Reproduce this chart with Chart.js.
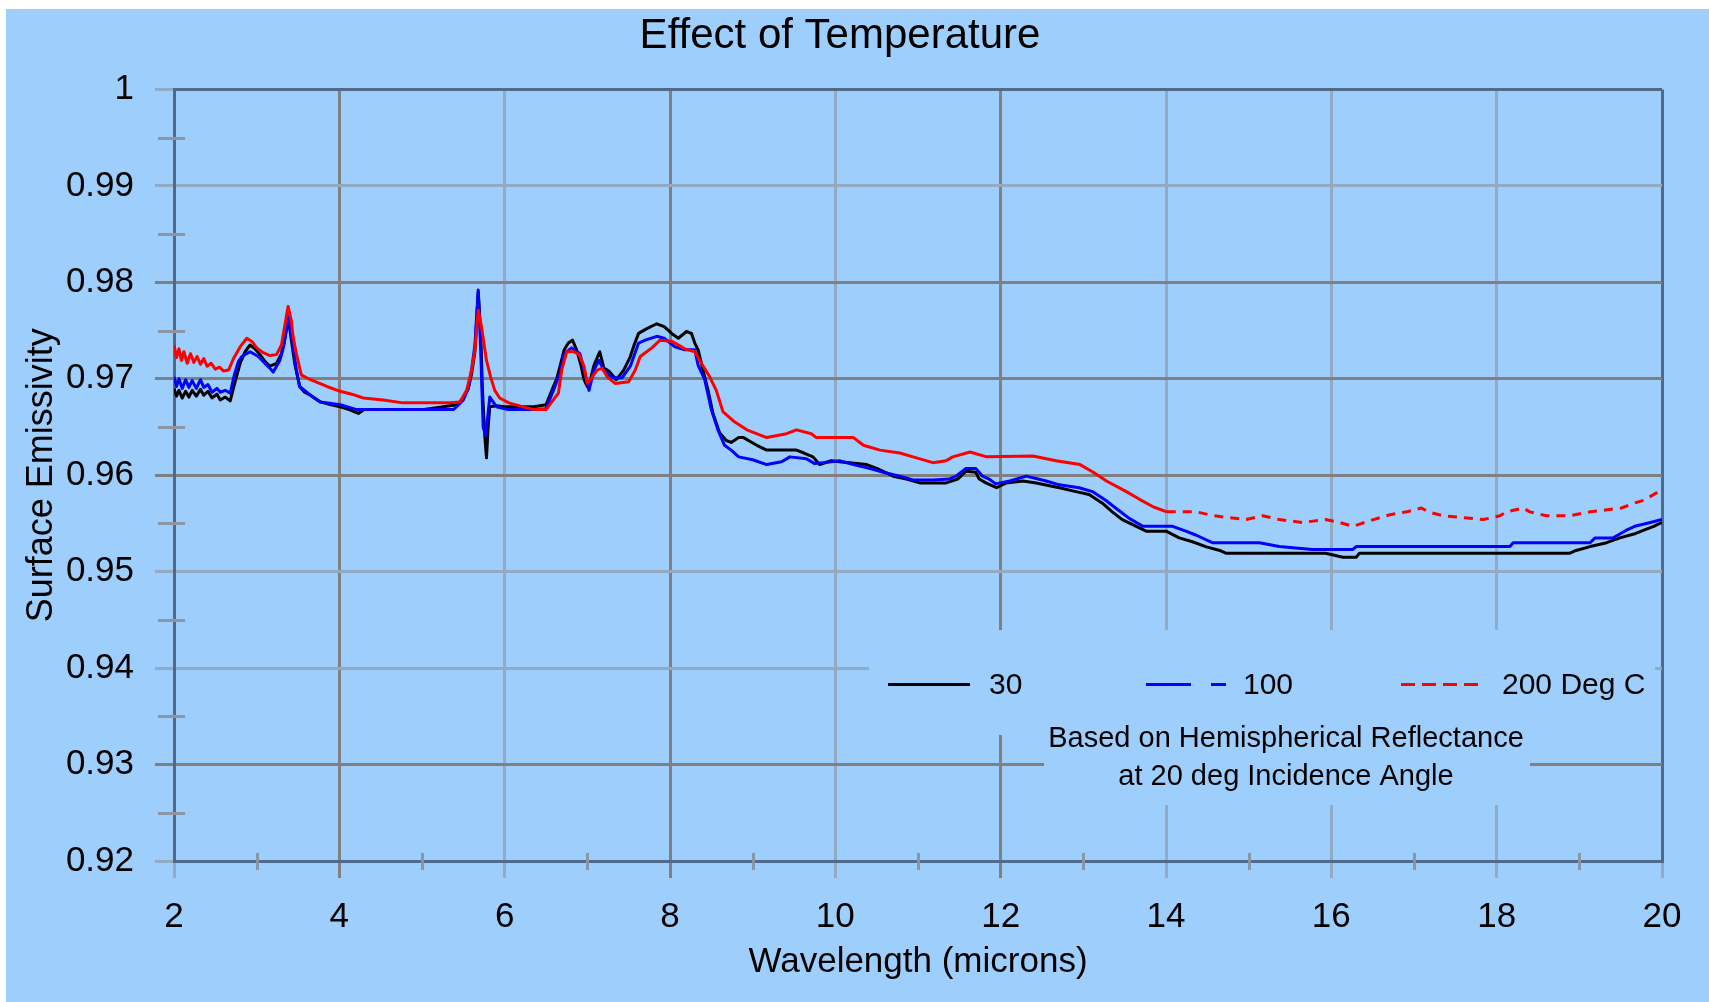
<!DOCTYPE html>
<html>
<head>
<meta charset="utf-8">
<title>Effect of Temperature</title>
<script src="https://cdn.jsdelivr.net/npm/chart.js@4.4.1/dist/chart.umd.min.js"></script>
<style>
  body { margin: 0; background: #ffffff; }
  canvas { display: block; }
</style>
</head>
<body>
<canvas id="chart" width="1709" height="1002"></canvas>
<script>
// wavelength (microns) / emissivity
const wl30 = [2.00,2.03,2.06,2.10,2.14,2.18,2.22,2.27,2.32,2.36,2.41,2.46,2.52,2.56,2.62,2.68,2.73,2.80,2.86,2.92,2.98,3.04,3.10,3.16,3.24,3.30,3.35,3.38,3.42,3.46,3.52,3.58,3.65,3.77,3.90,4.01,4.12,4.23,4.30,4.50,4.77,5.00,5.26,5.42,5.50,5.56,5.60,5.64,5.68,5.71,5.73,5.76,5.78,5.80,5.82,5.90,6.00,6.20,6.35,6.50,6.58,6.63,6.67,6.72,6.77,6.82,6.87,6.92,6.96,7.00,7.04,7.08,7.15,7.20,7.26,7.35,7.44,7.52,7.57,7.62,7.72,7.84,7.93,8.02,8.10,8.20,8.26,8.30,8.34,8.40,8.46,8.52,8.60,8.68,8.74,8.83,8.89,8.97,9.05,9.17,9.53,9.62,9.73,9.81,9.95,10.05,10.38,10.50,10.70,10.86,11.02,11.34,11.48,11.58,11.70,11.74,11.82,11.95,12.07,12.27,12.43,12.71,12.91,13.07,13.23,13.35,13.47,13.64,13.76,14.00,14.16,14.32,14.48,14.65,14.73,15.93,16.14,16.30,16.34,18.88,18.96,19.13,19.33,19.49,19.66,19.78,19.90,20.00];
const em30 = [0.9690,0.9682,0.9688,0.9680,0.9687,0.9681,0.9688,0.9682,0.9689,0.9683,0.9687,0.9680,0.9684,0.9678,0.9681,0.9677,0.9694,0.9716,0.9728,0.9735,0.9731,0.9725,0.9718,0.9713,0.9716,0.9726,0.9745,0.9764,0.9740,0.9716,0.9692,0.9686,0.9683,0.9676,0.9673,0.9671,0.9668,0.9664,0.9668,0.9668,0.9668,0.9668,0.9671,0.9673,0.9680,0.9690,0.9705,0.9728,0.9790,0.9750,0.9690,0.9640,0.9618,0.9650,0.9671,0.9672,0.9671,0.9671,0.9671,0.9673,0.9690,0.9700,0.9713,0.9730,0.9737,0.9740,0.9730,0.9715,0.9699,0.9692,0.9700,0.9714,0.9728,0.9711,0.9708,0.9699,0.9709,0.9723,0.9736,0.9747,0.9752,0.9757,0.9754,0.9747,0.9742,0.9749,0.9747,0.9737,0.9730,0.9709,0.9688,0.9664,0.9644,0.9636,0.9634,0.9639,0.9639,0.9635,0.9631,0.9626,0.9626,0.9623,0.9619,0.9611,0.9615,0.9614,0.9611,0.9607,0.9599,0.9596,0.9592,0.9592,0.9596,0.9604,0.9603,0.9596,0.9592,0.9587,0.9592,0.9594,0.9592,0.9587,0.9583,0.9580,0.9571,0.9562,0.9554,0.9547,0.9542,0.9542,0.9535,0.9531,0.9526,0.9522,0.9519,0.9519,0.9515,0.9515,0.9519,0.9519,0.9522,0.9526,0.9530,0.9535,0.9539,0.9543,0.9547,0.9551];

const wl100 = [2.00,2.03,2.06,2.10,2.14,2.18,2.22,2.27,2.32,2.36,2.41,2.46,2.52,2.56,2.62,2.68,2.73,2.78,2.82,2.92,3.02,3.10,3.16,3.20,3.28,3.33,3.38,3.44,3.48,3.52,3.65,3.77,4.01,4.21,4.50,5.00,5.38,5.50,5.56,5.60,5.64,5.68,5.71,5.74,5.77,5.82,5.90,6.04,6.35,6.50,6.60,6.67,6.72,6.81,6.91,6.96,7.02,7.08,7.14,7.20,7.30,7.42,7.52,7.62,7.70,7.84,7.93,8.06,8.18,8.30,8.34,8.42,8.50,8.58,8.66,8.74,8.83,9.00,9.17,9.35,9.45,9.65,9.75,9.95,10.05,10.22,10.42,10.58,10.78,10.94,11.18,11.38,11.46,11.58,11.70,11.78,11.86,11.94,12.11,12.31,12.55,12.71,12.95,13.11,13.27,13.39,13.56,13.72,14.08,14.24,14.36,14.56,15.13,15.37,15.77,16.26,16.30,18.16,18.20,19.13,19.19,19.41,19.49,19.57,19.67,19.86,20.00];
const em100 = [0.9702,0.9692,0.9700,0.9690,0.9699,0.9691,0.9698,0.9690,0.9699,0.9691,0.9694,0.9686,0.9690,0.9686,0.9688,0.9685,0.9704,0.9718,0.9723,0.9728,0.9723,0.9716,0.9711,0.9707,0.9719,0.9735,0.9764,0.9734,0.9709,0.9692,0.9683,0.9676,0.9673,0.9668,0.9668,0.9668,0.9668,0.9678,0.9690,0.9709,0.9735,0.9792,0.9730,0.9650,0.9641,0.9681,0.9671,0.9668,0.9668,0.9669,0.9690,0.9706,0.9726,0.9732,0.9726,0.9709,0.9688,0.9709,0.9719,0.9709,0.9701,0.9701,0.9713,0.9737,0.9740,0.9744,0.9742,0.9733,0.9730,0.9730,0.9714,0.9699,0.9668,0.9647,0.9631,0.9626,0.9619,0.9616,0.9611,0.9614,0.9619,0.9617,0.9612,0.9614,0.9615,0.9611,0.9607,0.9603,0.9599,0.9595,0.9595,0.9596,0.9599,0.9607,0.9607,0.9599,0.9596,0.9591,0.9594,0.9599,0.9594,0.9590,0.9587,0.9583,0.9574,0.9566,0.9555,0.9547,0.9547,0.9542,0.9538,0.9530,0.9530,0.9526,0.9523,0.9523,0.9526,0.9526,0.9530,0.9530,0.9535,0.9535,0.9539,0.9543,0.9547,0.9551,0.9554];

const wl200 = [2.00,2.03,2.06,2.09,2.12,2.16,2.20,2.24,2.28,2.32,2.36,2.40,2.45,2.50,2.55,2.60,2.66,2.72,2.80,2.88,2.95,3.00,3.08,3.16,3.24,3.30,3.34,3.38,3.42,3.44,3.48,3.54,3.65,3.85,4.01,4.15,4.29,4.53,4.77,5.34,5.46,5.54,5.60,5.64,5.68,5.72,5.78,5.83,5.88,5.94,6.05,6.35,6.50,6.65,6.69,6.75,6.84,6.90,6.96,7.00,7.06,7.12,7.18,7.24,7.34,7.50,7.58,7.64,7.78,7.88,8.02,8.18,8.30,8.38,8.48,8.56,8.64,8.77,8.93,9.17,9.41,9.53,9.71,9.77,10.22,10.34,10.54,10.78,10.94,11.18,11.34,11.42,11.63,11.83,12.39,12.67,12.96,13.12,13.28,13.52,13.68,13.85,14.01,14.37,14.57,14.97,15.17,15.37,15.65,15.93,16.10,16.26,16.51,16.71,16.91,17.09,17.17,17.35,17.84,18.04,18.12,18.32,18.40,18.60,18.89,19.13,19.51,19.66,19.78,20.00];
const em200 = [0.9735,0.9722,0.9731,0.9719,0.9728,0.9716,0.9726,0.9717,0.9723,0.9715,0.9721,0.9713,0.9716,0.9710,0.9712,0.9708,0.9709,0.9721,0.9733,0.9742,0.9738,0.9732,0.9727,0.9724,0.9725,0.9735,0.9755,0.9775,0.9760,0.9744,0.9726,0.9704,0.9699,0.9692,0.9687,0.9684,0.9680,0.9678,0.9675,0.9675,0.9676,0.9688,0.9709,0.9730,0.9771,0.9754,0.9719,0.9702,0.9688,0.9680,0.9675,0.9668,0.9668,0.9685,0.9709,0.9728,0.9728,0.9725,0.9713,0.9695,0.9702,0.9709,0.9711,0.9702,0.9695,0.9697,0.9709,0.9723,0.9732,0.9740,0.9739,0.9731,0.9728,0.9716,0.9702,0.9688,0.9666,0.9656,0.9647,0.9639,0.9643,0.9647,0.9643,0.9639,0.9639,0.9631,0.9626,0.9623,0.9619,0.9613,0.9615,0.9619,0.9624,0.9619,0.9620,0.9615,0.9611,0.9603,0.9594,0.9583,0.9575,0.9567,0.9562,0.9562,0.9558,0.9554,0.9558,0.9554,0.9551,0.9554,0.9551,0.9547,0.9554,0.9559,0.9562,0.9566,0.9562,0.9558,0.9554,0.9558,0.9562,0.9566,0.9562,0.9558,0.9558,0.9562,0.9566,0.9571,0.9574,0.9585];

const seriesLabels = ['30', '100', '200 Deg C'];
const yMajor = [0.92, 0.93, 0.94, 0.95, 0.96, 0.97, 0.98, 0.99, 1];
const xMajor = [2, 4, 6, 8, 10, 12, 14, 16, 18, 20];
const noteLines = ['Based on Hemispherical Reflectance', 'at 20 deg Incidence Angle'];

function toPoints(xs, ys) {
    return xs.map((x, i) => ({ x: x, y: ys[i] }));
}

const BG = '#9ecefb';
const FRAME = '#4f6a8a';
const GRID_DARK = '#808080';
const GRID_LIGHT = '#93aac3';

Chart.defaults.font.family = "'Liberation Sans', Arial, sans-serif";
Chart.defaults.color = '#000000';

// light blue panel with the white strip at top/left
const panelBg = {
    id: 'panelBg',
    beforeDraw(chart) {
        const c = chart.ctx;
        c.save();
        c.fillStyle = '#ffffff';
        c.fillRect(0, 0, chart.width, chart.height);
        c.fillStyle = BG;
        c.fillRect(6, 9, chart.width - 6, chart.height - 9);
        c.restore();
    }
};

// minor ticks, legend box and note
const extras = {
    id: 'extras',
    beforeDatasetsDraw(chart) {
        const c = chart.ctx;
        const xs = chart.scales.x, ys = chart.scales.y;
        c.save();
        c.strokeStyle = '#8a96a4';
        c.lineWidth = 3;
        for (let v = 0.925; v < 1; v += 0.01) {
            const py = Math.round(ys.getPixelForValue(v)) + 0.5;
            c.beginPath();
            c.moveTo(xs.left - 16, py);
            c.lineTo(xs.left + 11, py);
            c.stroke();
        }
        for (let v = 3; v < 20; v += 2) {
            const px = Math.round(xs.getPixelForValue(v)) + 0.5;
            c.beginPath();
            c.moveTo(px, ys.bottom - 8);
            c.lineTo(px, ys.bottom + 9);
            c.stroke();
        }
        // boxes behind legend and note hide the grid
        c.fillStyle = BG;
        c.fillRect(869, 630, 786, 105);
        c.fillRect(1044, 735, 486, 70);
        c.restore();
    },
    afterDraw(chart) {
        const c = chart.ctx;
        const ds = chart.data.datasets;
        const items = [
            { x0: 888, x1: 970, tx: 989, dash: [] },
            { x0: 1146, x1: 1226, tx: 1243, dash: [45, 20, 15, 20] },
            { x0: 1401, x1: 1480, tx: 1502, dash: [14, 7] }
        ];
        c.save();
        c.font = "30px 'Liberation Sans', Arial, sans-serif";
        c.textBaseline = 'middle';
        items.forEach((it, i) => {
            c.strokeStyle = ds[i].borderColor;
            c.lineWidth = 3;
            c.setLineDash(it.dash);
            c.beginPath();
            c.moveTo(it.x0, 684.5);
            c.lineTo(it.x1, 684.5);
            c.stroke();
            c.setLineDash([]);
            c.fillStyle = '#000';
            c.textAlign = 'left';
            c.fillText(ds[i].label, it.tx, 686);
        });
        c.font = "29px 'Liberation Sans', Arial, sans-serif";
        c.textAlign = 'center';
        c.fillText(noteLines[0], 1286, 739);
        c.fillText(noteLines[1], 1286, 777);
        c.restore();
    }
};

const ctx = document.getElementById('chart').getContext('2d');
const myChart = new Chart(ctx, {
    type: 'line',
    data: {
        datasets: [{
            label: seriesLabels[0],
            data: toPoints(wl30, em30),
            borderColor: '#000000',
            borderWidth: 3,
            order: 2
        },
        {
            label: seriesLabels[1],
            data: toPoints(wl100, em100),
            borderColor: '#0000ff',
            borderWidth: 3,
            order: 1
        },
        {
            label: seriesLabels[2],
            data: toPoints(wl200, em200),
            borderColor: '#ff0000',
            borderWidth: 3,
            order: 0,
            segment: {
                borderDash: c => c.p0.parsed.x >= 13.9 ? [9, 7] : undefined
            }
        }]
    },
    options: {
        responsive: false,
        animation: false,
        elements: {
            point: { radius: 0 },
            line: { tension: 0, borderJoinStyle: 'round' }
        },
        layout: { padding: { left: 18, right: 47, top: 0, bottom: 0 } },
        plugins: {
            legend: { display: false },
            tooltip: { enabled: false },
            title: {
                display: true,
                text: 'Effect of Temperature',
                color: '#000',
                font: { size: 42, weight: 'normal' },
                padding: { top: 11, bottom: 28 }
            }
        },
        scales: {
            x: {
                type: 'linear',
                min: 2,
                max: 20,
                afterBuildTicks: s => { s.ticks = xMajor.map(v => ({ value: v })); },
                afterFit: s => { s.height = 141; },
                ticks: { padding: 18, font: { size: 35 }, maxRotation: 0, autoSkip: false },
                grid: {
                    lineWidth: 3,
                    tickLength: 17,
                    color: c => {
                        const v = c.tick ? c.tick.value : null;
                        if (v === 2) return 'rgba(0,0,0,0)';
                        if (v === 20) return FRAME;
                        return (v === 4 || v === 8 || v === 12) ? GRID_DARK : GRID_LIGHT;
                    },
                    tickColor: c => (c.tick && (c.tick.value === 4 || c.tick.value === 8 || c.tick.value === 12)) ? GRID_DARK : GRID_LIGHT
                },
                border: { color: FRAME, width: 3 },
                title: {
                    display: true,
                    text: 'Wavelength (microns)',
                    font: { size: 35 },
                    padding: { top: 0, bottom: 19 }
                }
            },
            y: {
                min: 0.92,
                max: 1,
                afterBuildTicks: s => { s.ticks = yMajor.map(v => ({ value: v })); },
                afterFit: s => { s.width = 156; },
                ticks: {
                    padding: 21,
                    font: { size: 35 },
                    autoSkip: false,
                    callback: v => String(Math.round(v * 100) / 100)
                },
                grid: {
                    lineWidth: 3,
                    tickLength: 19,
                    color: c => {
                        const v = c.tick ? Math.round(c.tick.value * 100) : null;
                        if (v === 92) return 'rgba(0,0,0,0)';
                        if (v === 100) return FRAME;
                        return (v === 98 || v === 97 || v === 96 || v === 93) ? GRID_DARK : GRID_LIGHT;
                    },
                    tickColor: c => {
                        const v = c.tick ? Math.round(c.tick.value * 100) : null;
                        return (v === 98 || v === 97 || v === 96 || v === 93) ? GRID_DARK : GRID_LIGHT;
                    }
                },
                border: { color: FRAME, width: 3 },
                title: {
                    display: true,
                    text: 'Surface Emissivity',
                    font: { size: 36 },
                    padding: { top: 2, bottom: 0 }
                }
            }
        }
    },
    plugins: [panelBg, extras]
});
</script>
</body>
</html>
